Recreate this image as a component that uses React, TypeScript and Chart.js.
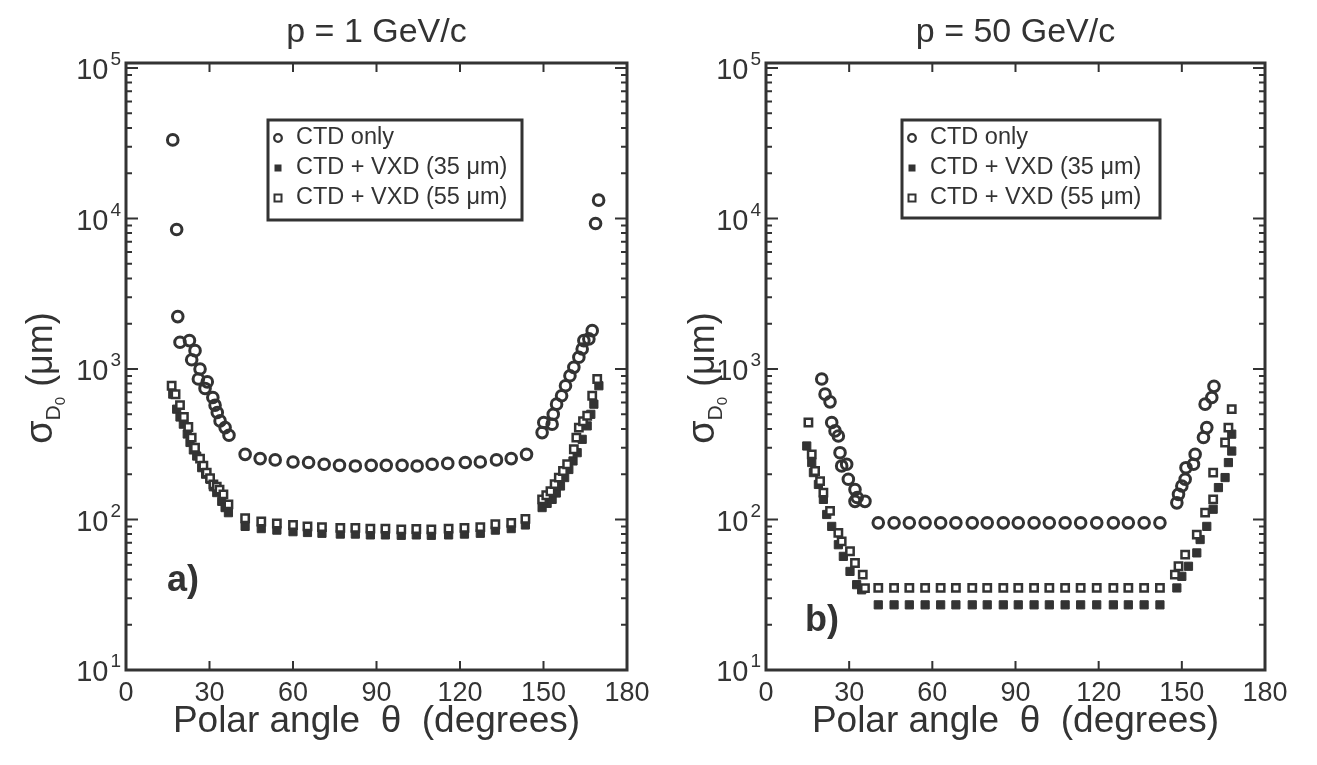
import React, { useEffect, useRef } from 'react';
import { Chart, registerables } from 'chart.js';

Chart.register(...registerables);

const FONT = '"Liberation Sans", Arial, Helvetica, sans-serif';
const INK = '#333333';

const angleTicks = [0, 30, 60, 90, 120, 150, 180];
const decadeTicks = [10, 100, 1000, 10000, 100000];
const legendLabels = ['CTD only', 'CTD + VXD (35 μm)', 'CTD + VXD (55 μm)'];
const panelTitles = ['p = 1 GeV/c', 'p = 50 GeV/c'];
const panelLetters = ['a)', 'b)'];
const xTitle = 'Polar angle  θ  (degrees)';

// ---------- panel a) p = 1 GeV/c ----------
const aCtdX = [16.8, 18.2, 18.6, 19.4, 22.8, 23.6, 24.8, 26.0, 26.6, 28.4, 29.2, 31.2, 32.0, 32.8, 33.8, 35.6, 37.0,
  42.8, 48.2, 53.6, 60.0, 65.6, 71.2, 76.7, 82.4, 88.1, 93.5, 99.2, 104.6, 110.0, 115.6, 121.9, 127.3, 133.1, 138.4, 143.9,
  149.5, 150.1, 153.1, 153.5, 154.7, 156.5, 157.9, 159.5, 160.9, 162.7, 163.9, 164.5, 166.3, 167.5, 168.7, 169.8];
const aCtdY = [33300, 8450, 2230, 1507, 1545, 1153, 1324, 858, 1000, 743, 822, 647, 575, 514, 452, 408, 363,
  271, 254, 249, 241, 239, 233, 229, 227, 229, 229, 229, 227, 233, 236, 239, 241, 249, 254, 271,
  378, 441, 430, 501, 584, 664, 774, 902, 1026, 1197, 1359, 1545, 1585, 1799, 9260, 13250];

const aV35X = [16.8, 18.2, 19.4, 20.6, 22.0, 23.0, 24.2, 25.4, 27.2, 28.6, 30.2, 31.4, 32.6, 34.4, 35.6, 36.8,
  42.8, 48.6, 54.2, 60.0, 65.2, 70.4, 77.0, 82.4, 87.8, 93.2, 98.9, 104.3, 109.7, 115.9, 121.6, 127.3, 132.7, 138.4, 143.5,
  149.5, 151.3, 153.1, 154.6, 156.1, 157.6, 159.1, 160.6, 162.1, 163.9, 165.7, 167.0, 168.1, 169.9];
const aV35Y = [681, 541, 480, 430, 370, 325, 290, 264, 221, 200, 185, 165, 151, 132, 120, 111,
  90, 87, 85, 83, 82, 81, 80, 80, 79, 79, 78.5, 79, 78.5, 79, 80, 81, 85, 87, 92,
  120, 128, 136, 150, 167, 190, 215, 245, 278, 341, 419, 500, 584, 774];

const aV55X = [16.4, 17.8, 19.4, 20.8, 22.4, 23.6, 24.8, 26.6, 27.8, 29.0, 30.2, 31.4, 32.6, 33.6, 35.0, 36.8,
  42.8, 48.6, 54.2, 60.0, 65.2, 70.4, 77.0, 82.4, 87.8, 93.2, 98.9, 104.3, 109.7, 115.9, 121.6, 127.3, 132.7, 138.4, 143.5,
  149.5, 151.0, 152.5, 154.0, 155.5, 157.0, 158.5, 160.9, 161.8, 162.7, 164.2, 165.7, 167.5, 169.3];
const aV55Y = [774, 680, 575, 480, 412, 350, 300, 254, 228, 205, 188, 171, 165, 158, 147, 126,
  102, 97, 94, 92, 90, 89, 88, 88, 87, 87, 86, 86.5, 86, 87, 88, 89, 93, 95, 101,
  136, 145, 154, 172, 190, 210, 233, 293, 350, 408, 450, 489, 664, 858];

// ---------- panel b) p = 50 GeV/c ----------
const bCtdX = [20.1, 21.3, 23.1, 23.7, 24.9, 26.1, 26.7, 27.3, 29.1, 29.7, 32.1, 32.9, 32.1, 35.7,
  40.5, 46.2, 51.7, 57.4, 63.0, 68.5, 74.4, 79.8, 85.6, 91.0, 96.7, 102.2, 107.9, 113.5, 119.3, 125.3, 130.7, 136.4, 142.1,
  148.2, 148.8, 150.0, 151.2, 151.5, 154.2, 154.8, 157.8, 159.0, 158.4, 160.8, 161.6];
const bCtdY = [858, 681, 605, 441, 388, 359, 278, 227, 233, 185, 158, 140, 132, 132,
  95, 95, 95, 95, 95, 95, 95, 95, 95, 95, 95, 95, 95, 95, 95, 95, 95, 95, 95,
  129, 147, 167, 185, 221, 233, 271, 351, 408, 584, 647, 767];

const bV35X = [14.7, 16.5, 17.1, 18.9, 20.7, 21.9, 23.7, 26.1, 27.9, 30.3, 32.7, 34.5,
  40.5, 46.2, 51.7, 57.4, 63.0, 68.5, 74.4, 79.8, 85.6, 91.0, 96.7, 102.2, 107.9, 113.5, 119.3, 125.3, 130.7, 136.4, 142.1,
  148.2, 150.0, 152.4, 155.4, 156.6, 159.0, 161.3, 163.2, 165.6, 166.8, 168.0, 168.0];
const bV35Y = [308, 239, 205, 171, 136, 108, 90, 68, 56.9, 45.2, 36.9, 34.1,
  27.1, 27.1, 27.1, 27.1, 27.1, 27.1, 27.1, 27.1, 27.1, 27.1, 27.1, 27.1, 27.1, 27.1, 27.1, 27.1, 27.1, 27.1, 27.1,
  35.1, 41.9, 48.9, 60, 73.6, 90, 117, 163, 190, 239, 285, 369];

const bV55X = [15.3, 16.5, 17.7, 19.5, 20.7, 23.1, 26.1, 27.3, 30.3, 32.1, 34.9, 35.7,
  40.5, 46.2, 51.7, 57.4, 63.0, 68.5, 74.4, 79.8, 85.6, 91.0, 96.7, 102.2, 107.9, 113.5, 119.3, 125.3, 130.7, 136.4, 142.1,
  147.5, 148.8, 151.2, 155.4, 158.4, 161.3, 161.3, 165.6, 166.8, 168.0];
const bV55Y = [441, 271, 210, 180, 151, 114, 81.5, 71.6, 61.5, 51.4, 43, 35,
  35.1, 35.1, 35.1, 35.1, 35.1, 35.1, 35.1, 35.1, 35.1, 35.1, 35.1, 35.1, 35.1, 35.1, 35.1, 35.1, 35.1, 35.1, 35.1,
  43, 48.9, 58.4, 79.4, 111, 136, 205, 325, 408, 541];

const pts = (xs: number[], ys: number[]) => xs.map((x, i) => ({ x, y: ys[i] }));

type PanelCfg = {
  left: number;
  width: number;
  plotLeft: number;
  plotRight: number;
  title: string;
  letter: string;
  letterPos: [number, number];
  yTitlePos: [number, number];
  legendBox: [number, number, number, number];
  ctd: { x: number; y: number }[];
  v35: { x: number; y: number }[];
  v55: { x: number; y: number }[];
};

function drawMarker(ctx: CanvasRenderingContext2D, kind: number, x: number, y: number) {
  ctx.save();
  ctx.strokeStyle = INK;
  ctx.fillStyle = INK;
  if (kind === 0) {
    ctx.lineWidth = 2.3;
    ctx.beginPath();
    ctx.arc(x, y, 3.8, 0, Math.PI * 2);
    ctx.stroke();
  } else if (kind === 1) {
    ctx.fillRect(x - 3.5, y - 3.5, 7, 7);
  } else {
    ctx.lineWidth = 2;
    ctx.fillStyle = '#fff';
    ctx.fillRect(x - 3.5, y - 3.5, 7, 7);
    ctx.strokeRect(x - 3.5, y - 3.5, 7, 7);
  }
  ctx.restore();
}

function makeDecor(cfg: PanelCfg) {
  return {
    id: 'decor',
    afterDraw(chart: any) {
      const ctx: CanvasRenderingContext2D = chart.ctx;
      const area = chart.chartArea;
      const xs = chart.scales.x;
      const ys = chart.scales.y;
      ctx.save();
      ctx.strokeStyle = INK;
      ctx.fillStyle = INK;

      // inward tick marks
      ctx.lineWidth = 2;
      angleTicks.forEach((v) => {
        if (v === 0 || v === 180) return;
        const px = xs.getPixelForValue(v);
        ctx.beginPath();
        ctx.moveTo(px, area.bottom);
        ctx.lineTo(px, area.bottom - 9);
        ctx.moveTo(px, area.top);
        ctx.lineTo(px, area.top + 9);
        ctx.stroke();
      });
      for (let d = 1; d <= 5; d++) {
        for (let m = 1; m <= 9; m++) {
          const v = m * Math.pow(10, d);
          if (v > 100000) break;
          const py = ys.getPixelForValue(v);
          const len = m === 1 ? 12 : 6;
          ctx.beginPath();
          ctx.moveTo(area.left, py);
          ctx.lineTo(area.left + len, py);
          ctx.moveTo(area.right, py);
          ctx.lineTo(area.right - len, py);
          ctx.stroke();
        }
      }

      // frame
      ctx.lineWidth = 3;
      ctx.strokeRect(area.left, area.top, area.right - area.left, area.bottom - area.top);

      // y tick labels 10^n
      decadeTicks.forEach((v) => {
        const py = ys.getPixelForValue(v);
        const exp = String(Math.round(Math.log10(v)));
        ctx.textAlign = 'right';
        ctx.textBaseline = 'alphabetic';
        ctx.font = `19px ${FONT}`;
        const ew = ctx.measureText(exp).width;
        const xr = area.left - 5;
        ctx.fillText(exp, xr, py - 3);
        ctx.font = `29px ${FONT}`;
        ctx.fillText('10', xr - ew - 2, py + 11);
      });

      // panel title
      ctx.textAlign = 'center';
      ctx.textBaseline = 'middle';
      ctx.font = `34px ${FONT}`;
      ctx.fillText(cfg.title, (area.left + area.right) / 2, 33);

      // x axis title
      ctx.font = `37px ${FONT}`;
      ctx.fillText(xTitle, (area.left + area.right) / 2, 722);

      // y axis title: sigma_{D_0} (um)
      ctx.save();
      ctx.translate(cfg.yTitlePos[0], cfg.yTitlePos[1]);
      ctx.rotate(-Math.PI / 2);
      ctx.textAlign = 'left';
      ctx.textBaseline = 'alphabetic';
      const parts: [string, number, number][] = [
        ['σ', 38, 0],
        ['D', 21, 8],
        ['0', 15, 13],
        [' (μm)', 36, 0],
      ];
      let total = 0;
      parts.forEach(([t, s]) => {
        ctx.font = `${s}px ${FONT}`;
        total += ctx.measureText(t).width;
      });
      let cx = -total / 2;
      parts.forEach(([t, s, dy]) => {
        ctx.font = `${s}px ${FONT}`;
        ctx.fillText(t, cx, 12 + dy);
        cx += ctx.measureText(t).width;
      });
      ctx.restore();

      // panel letter
      ctx.font = `bold 36px ${FONT}`;
      ctx.textAlign = 'center';
      ctx.textBaseline = 'middle';
      ctx.fillText(cfg.letter, cfg.letterPos[0], cfg.letterPos[1]);

      // legend
      const [x1, y1, x2, y2] = cfg.legendBox;
      ctx.fillStyle = '#fff';
      ctx.fillRect(x1, y1, x2 - x1, y2 - y1);
      ctx.lineWidth = 3;
      ctx.strokeRect(x1, y1, x2 - x1, y2 - y1);
      ctx.fillStyle = INK;
      ctx.font = `23.5px ${FONT}`;
      ctx.textAlign = 'left';
      ctx.textBaseline = 'middle';
      legendLabels.forEach((lab, i) => {
        const ry = y1 + 18 + i * 30;
        drawMarker(ctx, i, x1 + 10, ry);
        ctx.fillStyle = INK;
        ctx.fillText(lab, x1 + 28, ry);
      });
      ctx.restore();
    },
  };
}

function Panel({ cfg }: { cfg: PanelCfg }) {
  const ref = useRef<HTMLCanvasElement | null>(null);
  useEffect(() => {
    if (!ref.current) return;
    const chart = new Chart(ref.current, {
      type: 'scatter',
      data: {
        datasets: [
          {
            label: legendLabels[2],
            data: cfg.v55,
            pointStyle: 'rect',
            pointRadius: 5.2,
            borderWidth: 2.5,
            borderColor: INK,
            backgroundColor: '#ffffff',
            order: 0,
          },
          {
            label: legendLabels[0],
            data: cfg.ctd,
            pointStyle: 'circle',
            pointRadius: 5.3,
            borderWidth: 3,
            borderColor: INK,
            backgroundColor: 'rgba(0,0,0,0)',
            order: 1,
          },
          {
            label: legendLabels[1],
            data: cfg.v35,
            pointStyle: 'rect',
            pointRadius: 5.8,
            borderWidth: 1,
            borderColor: INK,
            backgroundColor: INK,
            order: 2,
          },
        ],
      },
      options: {
        animation: false,
        responsive: false,
        maintainAspectRatio: false,
        events: [],
        layout: { padding: { top: 63, right: cfg.width - cfg.plotRight, left: 0, bottom: 0 } },
        plugins: {
          legend: { display: false },
          tooltip: { enabled: false },
          title: { display: false },
        },
        scales: {
          x: {
            type: 'linear',
            min: 0,
            max: 180,
            afterBuildTicks: (s: any) => {
              s.ticks = angleTicks.map((v) => ({ value: v }));
            },
            ticks: {
              font: { size: 27, family: FONT },
              color: INK,
              padding: 7,
              maxRotation: 0,
              autoSkip: false,
            },
            grid: { display: false, drawTicks: false },
            border: { display: false },
            afterFit: (s: any) => {
              s.height = 95;
              s.paddingLeft = 0;
              s.paddingRight = 0;
            },
          },
          y: {
            type: 'logarithmic',
            min: 10,
            max: 108000,
            ticks: { display: false },
            grid: { display: false, drawTicks: false },
            border: { display: false },
            afterFit: (s: any) => {
              s.width = cfg.plotLeft;
              s.paddingTop = 0;
              s.paddingBottom = 0;
            },
          },
        },
      },
      plugins: [makeDecor(cfg)],
    } as any);
    return () => chart.destroy();
  }, [cfg]);
  return (
    <canvas
      ref={ref}
      width={cfg.width}
      height={765}
      style={{ position: 'absolute', left: cfg.left, top: 0, width: cfg.width, height: 765 }}
    />
  );
}

const panelA: PanelCfg = {
  left: 0,
  width: 650,
  plotLeft: 126,
  plotRight: 627,
  title: panelTitles[0],
  letter: panelLetters[0],
  letterPos: [183, 581],
  yTitlePos: [40, 378],
  legendBox: [268, 120, 522, 220],
  ctd: pts(aCtdX, aCtdY),
  v35: pts(aV35X, aV35Y),
  v55: pts(aV55X, aV55Y),
};

const panelB: PanelCfg = {
  left: 650,
  width: 667,
  plotLeft: 116,
  plotRight: 615,
  title: panelTitles[1],
  letter: panelLetters[1],
  letterPos: [172, 621],
  yTitlePos: [52, 378],
  legendBox: [252, 120, 510, 218],
  ctd: pts(bCtdX, bCtdY),
  v35: pts(bV35X, bV35Y),
  v55: pts(bV55X, bV55Y),
};

export default function App() {
  return (
    <div style={{ position: 'absolute', left: 0, top: 0, width: 1317, height: 765, background: '#fff' }}>
      <Panel cfg={panelA} />
      <Panel cfg={panelB} />
    </div>
  );
}
